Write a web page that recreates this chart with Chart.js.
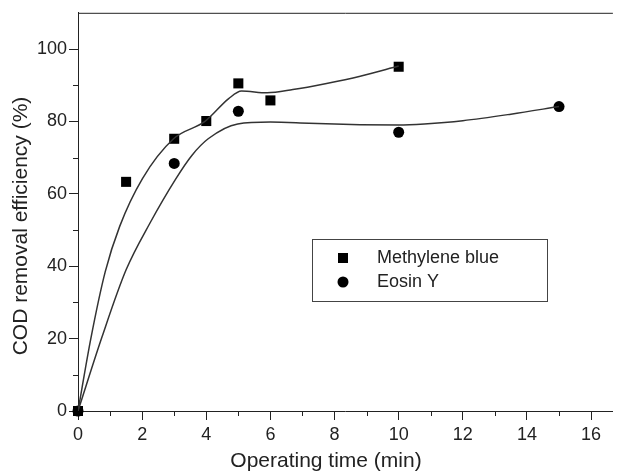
<!DOCTYPE html>
<html>
<head>
<meta charset="utf-8">
<script src="https://cdn.jsdelivr.net/npm/chart.js@4/dist/chart.umd.min.js"></script>
<style>
  html, body { margin: 0; padding: 0; background: #fff; }
  canvas { display: block; }
</style>
</head>
<body>
<canvas id="chart" width="620" height="471"></canvas>
<script>
// measured points
const seriesNames = ['Methylene blue', 'Eosin Y'];
const mbTime = [0, 1.5, 3, 4, 5, 6, 10];
const mbCod  = [0, 63.3, 75.2, 80.1, 90.5, 85.8, 95.1];
const eyTime = [0, 3, 5, 10, 15];
const eyCod  = [0, 68.4, 82.8, 77.0, 84.1];

// fitted curves
const mbFitTime = [0, 0.4, 0.85, 1.3, 2.01, 2.98, 3.96, 4.7, 5.1, 5.9, 6.7, 7.75, 8.8, 10];
const mbFitCod  = [0, 20, 38.5, 51, 64.2, 75.2, 80, 86.3, 88.4, 87.9, 88.8, 90.5, 92.5, 95.3];
const eyFitTime = [0, 0.75, 1.5, 2.25, 3.04, 3.55, 4.06, 4.98, 6, 7.2, 8.8, 10, 10.8, 12, 13.5, 15];
const eyFitCod  = [0, 20.5, 39, 52, 64, 70.6, 75.2, 79.3, 79.8, 79.5, 79.1, 79.0, 79.3, 80.2, 82, 84.1];

// axis ticks
const xTicks = [0, 2, 4, 6, 8, 10, 12, 14, 16];
const xMinor = [1, 3, 5, 7, 9, 11, 13, 15];
const yTicks = [0, 20, 40, 60, 80, 100];
const yMinor = [10, 30, 50, 70, 90];

const toXY = (xs, ys) => xs.map((x, i) => ({ x: x, y: ys[i] }));
const ink = '#222';
const font = 'Liberation Sans, Arial, Helvetica, sans-serif';

const frame = {
  id: 'frame',
  afterDraw(chart) {
    const ctx = chart.ctx;
    const a = chart.chartArea;
    const xs = chart.scales.x, ys = chart.scales.y;
    ctx.save();
    ctx.strokeStyle = ink;
    ctx.lineWidth = 1;
    // top line
    ctx.beginPath();
    ctx.moveTo(a.left, a.top + 0.5);
    ctx.lineTo(a.right, a.top + 0.5);
    ctx.stroke();
    // minor ticks
    ctx.beginPath();
    xMinor.forEach(v => {
      const px = Math.round(xs.getPixelForValue(v)) + 0.5;
      ctx.moveTo(px, a.bottom);
      ctx.lineTo(px, a.bottom + 5);
    });
    yMinor.forEach(v => {
      const py = Math.round(ys.getPixelForValue(v)) + 0.5;
      ctx.moveTo(a.left, py);
      ctx.lineTo(a.left - 5, py);
    });
    ctx.stroke();

    // axis titles
    ctx.fillStyle = ink;
    ctx.font = '21px ' + font;
    ctx.textAlign = 'center';
    ctx.textBaseline = 'middle';
    ctx.fillText('Operating time (min)', 326, 461);
    ctx.save();
    ctx.translate(21, 226);
    ctx.rotate(-Math.PI / 2);
    ctx.fillText('COD removal efficiency (%)', 0, 0);
    ctx.restore();

    // legend box
    ctx.strokeStyle = '#444';
    ctx.strokeRect(312.5, 239.5, 235, 62);
    ctx.fillStyle = '#000';
    ctx.fillRect(338, 253, 10, 10);
    ctx.beginPath();
    ctx.arc(343, 282, 5.5, 0, Math.PI * 2);
    ctx.fill();
    ctx.fillStyle = ink;
    ctx.font = '18px ' + font;
    ctx.textAlign = 'left';
    ctx.fillText(seriesNames[0], 377, 258);
    ctx.fillText(seriesNames[1], 377, 282);
    ctx.restore();
  }
};

new Chart(document.getElementById('chart'), {
  type: 'scatter',
  data: {
    datasets: [
      {
        type: 'line', label: seriesNames[0] + ' fit', data: toXY(mbFitTime, mbFitCod),
        borderColor: '#333', borderWidth: 1.5, pointRadius: 0, fill: false,
        cubicInterpolationMode: 'monotone'
      },
      {
        type: 'line', label: seriesNames[1] + ' fit', data: toXY(eyFitTime, eyFitCod),
        borderColor: '#333', borderWidth: 1.5, pointRadius: 0, fill: false,
        cubicInterpolationMode: 'monotone'
      },
      {
        label: seriesNames[1], data: toXY(eyTime, eyCod), clip: false,
        pointStyle: 'circle', pointRadius: 5.5, backgroundColor: '#000', borderColor: '#000', borderWidth: 0
      },
      {
        label: seriesNames[0], data: toXY(mbTime, mbCod), clip: false,
        pointStyle: 'rect', pointRadius: 7.1, backgroundColor: '#000', borderColor: '#000', borderWidth: 0
      }
    ]
  },
  options: {
    responsive: false,
    animation: false,
    layout: { padding: { top: 10, right: 0, left: 0, bottom: 0 } },
    plugins: { legend: { display: false }, tooltip: { enabled: false } },
    scales: {
      x: {
        type: 'linear', min: 0, max: 16.68,
        afterBuildTicks: s => { s.ticks = xTicks.map(v => ({ value: v })); },
        afterFit: s => { s.height = 60; },
        grid: { drawOnChartArea: false, drawTicks: true, tickLength: 9, color: ink },
        border: { display: true, color: ink, width: 1 },
        ticks: { color: ink, font: { family: font, size: 18 }, padding: 4, maxRotation: 0 }
      },
      y: {
        type: 'linear', min: 0, max: 110,
        afterBuildTicks: s => { s.ticks = yTicks.map(v => ({ value: v })); },
        afterFit: s => { s.width = 78; },
        grid: { drawOnChartArea: false, drawTicks: true, tickLength: 9, color: ink },
        border: { display: true, color: ink, width: 1 },
        ticks: { color: ink, font: { family: font, size: 18 }, padding: 2 }
      }
    }
  },
  plugins: [frame]
});
</script>
</body>
</html>
